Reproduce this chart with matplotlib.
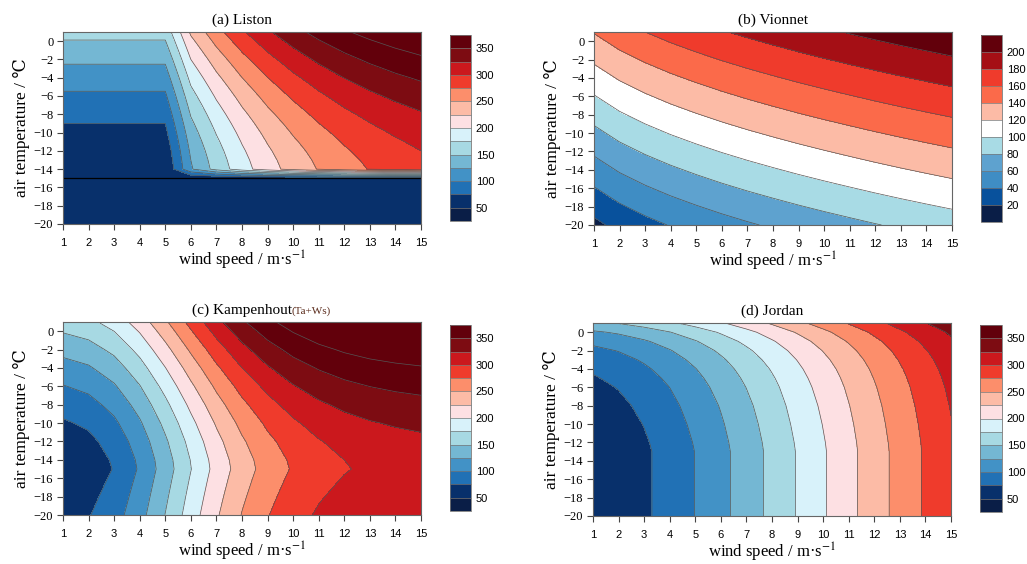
import matplotlib
matplotlib.use('Agg')
import matplotlib.pyplot as plt
from matplotlib.colors import ListedColormap, BoundaryNorm
import numpy as np

plt.rcParams['font.family'] = ['Liberation Serif', 'DejaVu Serif']
plt.rcParams['mathtext.fontset'] = 'stix'

# wind speed (m/s), shared by all panels
wind = [1, 2, 3, 4, 5, 6, 7, 8, 9, 10, 11, 12, 13, 14, 15]

# (a) Liston, density in kg/m3 (rows = air temperature)
liston_temp = [1, 0, -1, -2, -3, -4, -5, -6, -7, -8, -9, -10, -11, -12, -13, -14, -15, -20]
liston_rho = [
    [158.8, 158.8, 158.8, 158.8, 158.8, 229.1, 266.2, 296.6, 321.5, 341.8, 358.5, 372.2, 383.3, 392.5, 400.0],
    [148.8, 148.8, 148.8, 148.8, 148.8, 219.1, 256.2, 286.6, 311.5, 331.8, 348.5, 362.2, 373.3, 382.5, 390.0],
    [139.1, 139.1, 139.1, 139.1, 139.1, 209.4, 246.5, 276.9, 301.8, 322.1, 338.8, 352.5, 363.6, 372.8, 380.3],
    [129.7, 129.7, 129.7, 129.7, 129.7, 200.0, 237.1, 267.5, 292.4, 312.7, 329.4, 343.1, 354.2, 363.4, 370.9],
    [120.7, 120.7, 120.7, 120.7, 120.7, 191.0, 228.1, 258.5, 283.4, 303.7, 320.4, 334.1, 345.2, 354.4, 361.9],
    [112.0, 112.0, 112.0, 112.0, 112.0, 182.3, 219.4, 249.8, 274.7, 295.0, 311.7, 325.4, 336.5, 345.7, 353.2],
    [103.8, 103.8, 103.8, 103.8, 103.8, 174.1, 211.2, 241.6, 266.5, 286.8, 303.5, 317.2, 328.3, 337.5, 345.0],
    [95.9, 95.9, 95.9, 95.9, 95.9, 166.2, 203.3, 233.7, 258.6, 278.9, 295.6, 309.3, 320.4, 329.6, 337.1],
    [88.5, 88.5, 88.5, 88.5, 88.5, 158.8, 195.9, 226.3, 251.2, 271.5, 288.2, 301.9, 313.0, 322.2, 329.7],
    [81.5, 81.5, 81.5, 81.5, 81.5, 151.8, 188.9, 219.3, 244.2, 264.5, 281.2, 294.9, 306.0, 315.2, 322.7],
    [75.0, 75.0, 75.0, 75.0, 75.0, 145.3, 182.4, 212.8, 237.7, 258.0, 274.7, 288.4, 299.5, 308.7, 316.2],
    [69.0, 69.0, 69.0, 69.0, 69.0, 139.3, 176.4, 206.8, 231.7, 252.0, 268.7, 282.4, 293.5, 302.7, 310.2],
    [63.6, 63.6, 63.6, 63.6, 63.6, 133.9, 171.0, 201.4, 226.3, 246.6, 263.3, 277.0, 288.1, 297.3, 304.8],
    [58.8, 58.8, 58.8, 58.8, 58.8, 129.1, 166.2, 196.6, 221.5, 241.8, 258.5, 272.2, 283.3, 292.5, 300.0],
    [54.8, 54.8, 54.8, 54.8, 54.8, 125.1, 162.2, 192.6, 217.5, 237.8, 254.5, 268.2, 279.3, 288.5, 296.0],
    [51.7, 51.7, 51.7, 51.7, 51.7, 122.0, 159.1, 189.5, 214.4, 234.7, 251.4, 265.1, 276.2, 285.4, 292.9],
    [50, 50, 50, 50, 50, 50, 50, 50, 50, 50, 50, 50, 50, 50, 50],
    [50, 50, 50, 50, 50, 50, 50, 50, 50, 50, 50, 50, 50, 50, 50],
]

# (b) Vionnet
vionnet_temp = [1, -20]
vionnet_rho = [
    [141.0, 151.8, 160.0, 167.0, 173.1, 178.7, 183.8, 188.5, 193.0, 197.2, 201.2, 205.1, 208.8, 212.3, 215.7],
    [15.0, 25.8, 34.0, 41.0, 47.1, 52.7, 57.8, 62.5, 67.0, 71.2, 75.2, 79.1, 82.8, 86.3, 89.7],
]

# (c) Kampenhout (Ta+Ws)
kamp_temp = [1, 0, -2, -4, -6, -8, -10, -12, -14, -15, -16, -18, -20]
kamp_rho = [
    [161.7, 169.0, 185.1, 211.7, 246.1, 283.1, 317.5, 346.6, 369.3, 386.3, 398.5, 407.1, 413.1, 417.1, 419.9],
    [151.7, 159.0, 175.1, 201.7, 236.1, 273.1, 307.5, 336.6, 359.3, 376.3, 388.5, 397.1, 403.1, 407.1, 409.9],
    [132.6, 139.9, 156.0, 182.6, 217.0, 254.0, 288.4, 317.5, 340.2, 357.2, 369.4, 378.0, 384.0, 388.0, 390.8],
    [114.9, 122.2, 138.3, 164.9, 199.3, 236.3, 270.7, 299.8, 322.5, 339.5, 351.7, 360.3, 366.3, 370.3, 373.1],
    [98.8, 106.1, 122.2, 148.8, 183.2, 220.2, 254.6, 283.7, 306.4, 323.4, 335.6, 344.2, 350.2, 354.2, 357.0],
    [84.4, 91.7, 107.8, 134.4, 168.8, 205.8, 240.2, 269.3, 292.0, 309.0, 321.2, 329.8, 335.8, 339.8, 342.6],
    [71.9, 79.2, 95.3, 121.9, 156.3, 193.3, 227.7, 256.8, 279.5, 296.5, 308.7, 317.3, 323.3, 327.3, 330.1],
    [61.7, 69.0, 85.1, 111.7, 146.1, 183.1, 217.5, 246.6, 269.3, 286.3, 298.5, 307.1, 313.1, 317.1, 319.9],
    [54.6, 61.9, 78.0, 104.6, 139.0, 176.0, 210.4, 239.5, 262.2, 279.2, 291.4, 300.0, 306.0, 310.0, 312.8],
    [52.9, 60.2, 76.3, 102.9, 137.3, 174.3, 208.7, 237.8, 260.5, 277.5, 289.7, 298.3, 304.3, 308.3, 311.1],
    [55.7, 63.0, 79.1, 105.7, 140.1, 177.1, 211.5, 240.6, 263.3, 280.3, 292.5, 301.1, 307.1, 311.1, 313.9],
    [61.1, 68.4, 84.5, 111.1, 145.5, 182.5, 216.9, 246.0, 268.7, 285.7, 297.9, 306.5, 312.5, 316.5, 319.3],
    [66.2, 73.5, 89.6, 116.2, 150.6, 187.6, 222.0, 251.1, 273.8, 290.8, 303.0, 311.6, 317.6, 321.6, 324.4],
]

# (d) Jordan
jordan_temp = [1, 0, -1, -2, -3, -4, -5, -6, -8, -10, -12, -13, -20]
jordan_rho = [
    [145.1, 151.4, 160.3, 171.2, 183.7, 197.6, 212.5, 228.1, 244.1, 260.4, 276.7, 292.9, 308.7, 324.2, 339.0],
    [121.4, 128.2, 137.7, 149.3, 162.7, 177.5, 193.4, 210.0, 227.1, 244.4, 261.8, 279.1, 296.0, 312.5, 328.3],
    [105.4, 112.4, 122.3, 134.4, 148.4, 163.8, 180.3, 197.7, 215.5, 233.6, 251.7, 269.7, 287.3, 304.5, 321.0],
    [93.8, 101.0, 111.2, 123.7, 138.0, 153.9, 170.9, 188.8, 207.1, 225.8, 244.4, 262.9, 281.1, 298.7, 315.8],
    [85.0, 92.4, 102.8, 115.6, 130.3, 146.5, 163.9, 182.1, 200.8, 219.9, 238.9, 257.8, 276.4, 294.4, 311.8],
    [78.2, 85.7, 96.3, 109.2, 124.2, 140.7, 158.3, 176.8, 195.9, 215.2, 234.6, 253.8, 272.7, 291.0, 308.7],
    [72.8, 80.5, 91.1, 104.3, 119.4, 136.1, 154.0, 172.7, 192.0, 211.6, 231.2, 250.7, 269.8, 288.4, 306.3],
    [68.4, 76.1, 86.9, 100.1, 115.4, 132.3, 150.4, 169.3, 188.8, 208.6, 228.4, 248.1, 267.4, 286.2, 304.3],
    [61.6, 69.4, 80.4, 93.9, 109.4, 126.5, 144.9, 164.1, 184.0, 204.1, 224.2, 244.2, 263.8, 282.8, 301.2],
    [56.8, 64.7, 75.8, 89.4, 105.1, 122.4, 141.0, 160.4, 180.5, 200.8, 221.1, 241.3, 261.2, 280.4, 299.0],
    [53.0, 61.0, 72.1, 85.9, 101.7, 119.2, 137.9, 157.5, 177.7, 198.2, 218.7, 239.1, 259.1, 278.5, 297.3],
    [51.6, 59.6, 70.8, 84.6, 100.5, 118.0, 136.8, 156.5, 176.7, 197.3, 217.9, 238.3, 258.4, 277.9, 296.7],
    [51.6, 59.6, 70.8, 84.6, 100.5, 118.0, 136.8, 156.5, 176.7, 197.3, 217.9, 238.3, 258.4, 277.9, 296.7],
]

levels_350 = [25, 50, 75, 100, 125, 150, 175, 200, 225, 250, 275, 300, 325, 350, 375]
ticks_350 = [50, 100, 150, 200, 250, 300, 350]
colors_350 = ['#0a1e47', '#08306b', '#2171b5', '#4292c6', '#74b7d3', '#a7d9e3', '#d8f2fa',
              '#fde0e3', '#fcbba6', '#fc8e6b', '#ef3b2c', '#cb181d', '#7d0c12', '#62000b']

levels_200 = [0, 20, 40, 60, 80, 100, 120, 140, 160, 180, 200, 220]
ticks_200 = [20, 40, 60, 80, 100, 120, 140, 160, 180, 200]
colors_200 = ['#0a1e47', '#08519c', '#3f8dc4', '#5ea2cf', '#a8dbe5', '#ffffff',
              '#fcbba6', '#fb6a4a', '#ef3b2c', '#a50f15', '#62000b']

W, H = 1027, 564


def px_rect(x0, y0, x1, y1):
    return [x0 / W, 1 - y1 / H, (x1 - x0) / W, (y1 - y0) / H]


def draw_panel(ax, cax, temp, rho, levels, colors, cbar_ticks, title, edge_level=None):
    cmap = ListedColormap(colors)
    cmap.set_over(colors[-1])
    # bands closed at the bottom (value on a level goes to the upper band)
    fill_levels = np.array(levels, dtype=float) - 0.01
    ax.contourf(wind, temp, rho, levels=fill_levels, cmap=cmap, extend='max')
    ax.contour(wind, temp, rho, levels=levels, colors='#555555', linewidths=0.5)
    if edge_level is not None:
        ax.contour(wind, temp, rho, levels=[edge_level], colors='k', linewidths=0.9)

    ax.set_xlim(1, 15)
    ax.set_ylim(-20, 1)
    ax.set_xticks(wind)
    ax.set_yticks(np.arange(-20, 1, 2))
    ax.tick_params(axis='x', direction='out', length=4, width=0.8, color='#444444',
                   labelsize=8, labelfontfamily='Liberation Sans', pad=6)
    ax.tick_params(axis='y', direction='out', length=4, width=0.8, color='#444444',
                   labelsize=9, pad=3)
    for s in ax.spines.values():
        s.set_color('#666666')
        s.set_linewidth(0.8)
    ax.set_xlabel('wind speed / m·s$^{-1}$', fontsize=12, labelpad=0.5)
    ax.set_ylabel('air temperature / ℃', fontsize=12.5, labelpad=3)
    t = ax.set_title(title, fontsize=11, pad=6)

    sm = plt.cm.ScalarMappable(norm=BoundaryNorm(levels, len(colors)), cmap=ListedColormap(colors))
    cb = plt.colorbar(sm, cax=cax, ticks=cbar_ticks, drawedges=True)
    cb.outline.set_edgecolor('#777777')
    cb.outline.set_linewidth(0.6)
    cb.dividers.set_color('#777777')
    cb.dividers.set_linewidth(0.5)
    cax.minorticks_off()
    cax.tick_params(which='both', length=0, labelsize=8, labelfontfamily='Liberation Sans', pad=3.5)
    return t


fig = plt.figure(figsize=(W / 100, H / 100), dpi=100)

ax_a = fig.add_axes(px_rect(63, 32, 421, 224))
cax_a = fig.add_axes(px_rect(450, 35, 471, 221))
ax_b = fig.add_axes(px_rect(594, 32, 952, 225))
cax_b = fig.add_axes(px_rect(981, 35, 1002, 222))
ax_c = fig.add_axes(px_rect(63, 322, 421, 515))
cax_c = fig.add_axes(px_rect(450, 325, 471, 511))
ax_d = fig.add_axes(px_rect(593, 323, 951, 516))
cax_d = fig.add_axes(px_rect(980, 325, 1002, 512))

draw_panel(ax_a, cax_a, liston_temp, liston_rho, levels_350, colors_350, ticks_350,
           '(a) Liston', edge_level=50)
draw_panel(ax_b, cax_b, vionnet_temp, vionnet_rho, levels_200, colors_200, ticks_200,
           '(b) Vionnet')
t_c = draw_panel(ax_c, cax_c, kamp_temp, kamp_rho, levels_350, colors_350, ticks_350,
                 '(c) Kampenhout')
ax_c.annotate('(Ta+Ws)', xy=(1, 0.2), xycoords=t_c, ha='left', va='baseline',
              fontsize=8, color='#5a2a1a')
draw_panel(ax_d, cax_d, jordan_temp, jordan_rho, levels_350, colors_350, ticks_350,
           '(d) Jordan')

fig.savefig('out.png', dpi=100)
